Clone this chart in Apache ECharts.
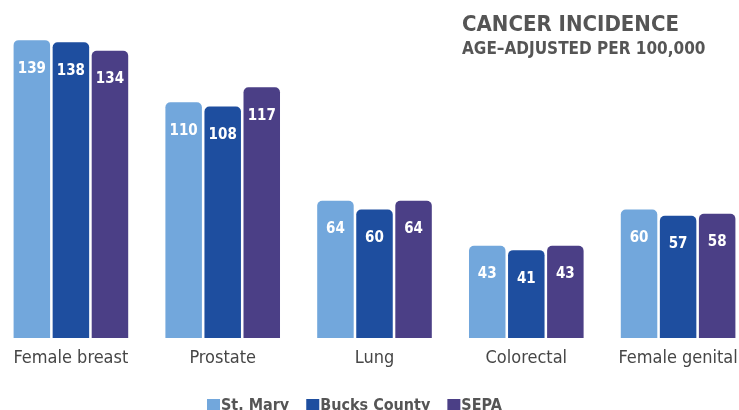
<!DOCTYPE html>
<html>
<head>
<meta charset="utf-8">
<script src="https://cdn.jsdelivr.net/npm/echarts@6/dist/echarts.min.js"></script>
<style>
  html, body { margin: 0; padding: 0; background: #ffffff; }
  #chart { width: 739px; height: 410px; }
</style>
</head>
<body>
<div id="chart"></div>
<script>
// Cancer sites shown along the bottom
const categories = ['Female breast', 'Prostate', 'Lung', 'Colorectal', 'Female genital'];

// Age-adjusted incidence per 100,000
const stMary = [139, 110, 64, 43, 60];
const bucksCounty = [138, 108, 60, 41, 57];
const sepa = [134, 117, 64, 43, 58];

const seriesNames = ['St. Mary', 'Bucks County', 'SEPA'];
const seriesColors = ['#72a7dc', '#1e4e9f', '#4b3f86'];
const seriesData = [stMary, bucksCounty, sepa];

const FONT = '"DejaVu Sans Condensed", "DejaVu Sans", sans-serif';

const chart = echarts.init(document.getElementById('chart'), null, { renderer: 'canvas' });

chart.setOption({
  backgroundColor: '#ffffff',
  animation: false,
  title: {
    text: 'CANCER INCIDENCE',
    subtext: 'AGE\u2013ADJUSTED PER 100,000',
    left: 457,
    top: 9,
    itemGap: 5,
    textStyle: { fontFamily: FONT, fontSize: 22, fontWeight: 'bold', color: '#555555' },
    subtextStyle: { fontFamily: FONT, fontSize: 17, fontWeight: 'bold', color: '#555555' }
  },
  legend: {
    data: seriesNames,
    left: 202,
    top: 393,
    icon: 'rect',
    itemWidth: 13,
    itemHeight: 14,
    itemGap: 17,
    textStyle: { fontFamily: FONT, fontSize: 16, fontWeight: 'bold', color: '#555555', padding: [0, 0, 0, -4] }
  },
  grid: { left: -5, right: -15, top: 38, bottom: 72, containLabel: false, outerBoundsMode: 'none' },
  xAxis: {
    type: 'category',
    data: categories,
    axisLine: { show: false },
    axisTick: { show: false },
    axisLabel: { interval: 0, hideOverlap: false, margin: 11, fontFamily: FONT, fontSize: 18, color: '#464646' }
  },
  yAxis: {
    type: 'value',
    min: 0,
    max: 140,
    show: false,
    splitLine: { show: false }
  },
  series: seriesData.map((vals, i) => ({
    name: seriesNames[i],
    type: 'bar',
    data: vals,
    barWidth: 36.5,
    barGap: '7%',
    itemStyle: { color: seriesColors[i], borderRadius: [5, 5, 0, 0] },
    label: {
      show: true,
      position: 'insideTop',
      distance: 21,
      fontFamily: FONT,
      fontSize: 15,
      fontWeight: 'bold',
      color: '#ffffff'
    }
  }))
});
</script>
</body>
</html>
